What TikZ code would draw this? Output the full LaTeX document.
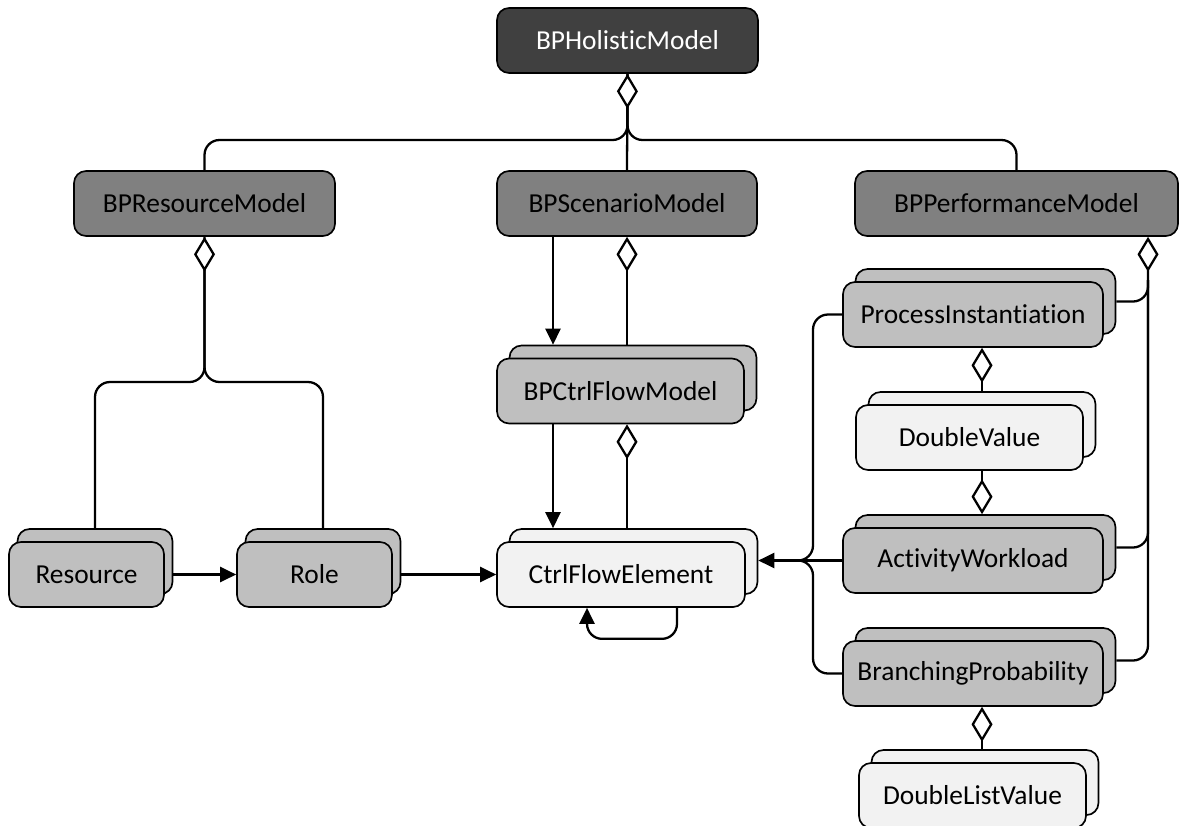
\documentclass[tikz,border=0pt]{standalone}
\usepackage{fontspec}
\setmainfont{Carlito}[Ligatures=NoCommon]
\usepackage{tikz}
\usetikzlibrary{arrows.meta}
\usetikzlibrary{shadows}

\definecolor{holgray}{HTML}{404040}
\definecolor{modgray}{HTML}{808080}
\definecolor{partgray}{HTML}{BFBFBF}
\definecolor{valgray}{HTML}{F2F2F2}

\begin{document}
\begin{tikzpicture}[x=0.02cm, y=-0.02cm, >={Triangle[length=0.32cm,width=0.3cm]}, line width=1.3pt,
    agg/.style={{Diamond[fill=white,length=0.7cm,width=0.42cm]}-},
    stack/.style={copy shadow={shadow xshift=#1, shadow yshift=0.26cm}}, stack/.default=0.25cm]
  \tikzstyle{box}=[rectangle, rounded corners=0.24cm, draw=black, line width=0.95pt, minimum height=1.3cm, inner sep=0pt, font=\fontsize{15.6}{19}\selectfont]
  \tikzstyle{joint}=[rounded corners=0.3cm]

  \clip (0,0) rectangle (1179,825);

  \node[box, fill=holgray, text=white, minimum width=5.22cm] (hol) at (627.5,40.5) {BPHolisticModel};
  \node[box, fill=modgray, minimum width=5.22cm] (res) at (204.5,203.5) {BPResourceModel};
  \node[box, fill=modgray, minimum width=5.2cm] (scen) at (627,203.5) {BPScenarioModel};
  \node[box, fill=modgray, minimum width=6.46cm] (perf) at (1016.5,203.5) {BPPerformanceModel};

  \node[box, stack, fill=partgray, minimum width=4.94cm] (cfm) at (620.5,391) {BPCtrlFlowModel};
  \node[box, stack, fill=valgray, minimum width=4.96cm] (cfe) at (621,574.5) {CtrlFlowElement};
  \node[box, stack=0.17cm, fill=partgray, minimum width=3.1cm] (rsc) at (86.5,574.5) {Resource};
  \node[box, stack=0.17cm, fill=partgray, minimum width=3.1cm] (role) at (314.5,574.5) {Role};

  \node[box, stack, fill=partgray, minimum width=5.2cm] (pi) at (973,314.5) {ProcessInstantiation};
  \node[box, stack, fill=valgray, minimum width=4.54cm] (dv) at (969.5,437.5) {DoubleValue};
  \node[box, stack, fill=partgray, minimum width=5.2cm] (aw) at (973,560.5) {ActivityWorkload};
  \node[box, stack, fill=partgray, minimum width=5.2cm] (bra) at (973,673.5) {BranchingProbability};
  \node[box, stack, fill=valgray, minimum width=4.54cm] (dlv) at (972.5,795.5) {DoubleListValue};

  % top level
  \coordinate (hj) at (627.5,140);
  \draw[joint] (hol.south) -- (hj) -| (res.north);
  \draw[joint] (hol.south) -- (hj) -| (perf.north);
  \draw[agg] (hol.south) -- (scen.north);

  % resources
  \coordinate (rj) at (204.5,382);
  \draw[joint] (res.south) -- (rj) -| ([xshift=0.17cm,yshift=0.26cm]role.north);
  \draw[agg, joint] (res.south) -- (rj) -| ([xshift=0.17cm,yshift=0.26cm]rsc.north);
  \draw[->] ([xshift=0.17cm]rsc.east) -- (role.west);
  \draw[->] ([xshift=0.17cm]role.east) -- (cfe.west);

  % control flow
  \draw[->] ([xshift=-1.48cm]scen.south) -- ([xshift=-1.48cm,yshift=0.26cm]scen.south |- cfm.north);
  \draw[agg] (scen.south) -- ([yshift=0.26cm]scen.south |- cfm.north);
  \draw[->] ([xshift=-1.35cm]cfm.south) -- ([xshift=-1.35cm,yshift=0.26cm]cfm.south |- cfe.north);
  \draw[agg] ([xshift=0.13cm]cfm.south) -- ([xshift=0.13cm,yshift=0.26cm]cfm.south |- cfe.north);
  \draw[->, joint] ([xshift=1.12cm]cfe.south) -- ++(0,31) -| ([xshift=-0.68cm]cfe.south);

  % performance
  \coordinate (rt) at (1148,280);
  \draw[joint] ([xshift=0.25cm,yshift=0.26cm]pi.east) -| (rt);
  \draw[joint] ([xshift=0.25cm,yshift=0.26cm]aw.east) -| (rt);
  \draw[agg, joint] (perf.south -| rt) |- ([xshift=0.25cm,yshift=0.26cm]bra.east);

  \coordinate (lj) at (813,560.5);
  \coordinate (lt) at (785,560.5);
  \draw[joint] (pi.west) -| (lj) -- (lt);
  \draw[joint] (bra.west) -| (lj) -- (lt);
  \draw[->] (aw.west) -- ([xshift=0.25cm]aw.west -| cfe.east);

  \draw[agg] ([xshift=0.18cm]pi.south) -- ([xshift=0.18cm,yshift=0.26cm]pi.south |- dv.north);
  \draw[agg] ([xshift=0.18cm,yshift=0.26cm]aw.north) -- ([xshift=0.18cm]aw.north |- dv.south);
  \draw[agg] ([xshift=0.18cm]bra.south) -- ([xshift=0.18cm,yshift=0.26cm]bra.south |- dlv.north);
\end{tikzpicture}
\end{document}
